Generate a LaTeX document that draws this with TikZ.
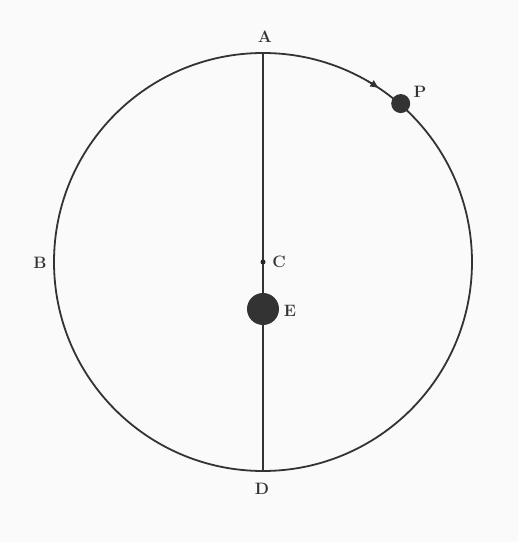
\documentclass[tikz,border=0pt]{standalone}
\usetikzlibrary{arrows.meta}
\begin{document}
\begin{tikzpicture}[x=1pt,y=1pt,
  lbl/.style={font=\fontsize{16.5}{18}\selectfont\bfseries, inner sep=0pt, text=black!80},
  dotsmall/.style={circle, fill=black!85, inner sep=0pt, minimum size=5pt},
  body/.style={circle, fill=black!80, inner sep=0pt},
  orbit/.style={circle, draw=black!80, line width=1.8pt, inner sep=0pt, minimum size=418pt}]
  \fill[black!2] (0,0) rectangle (518,542);
  \useasboundingbox (0,0) rectangle (518,542);
  \node[orbit] (circ) at (263,280) {};
  \draw[black!80, line width=1.4pt] (circ.north) -- (circ.south);
  \node[dotsmall] (C) at (circ.center) {};
  \node[body, minimum size=32pt] (E) at (263,233) {};
  \node[body, minimum size=19pt] (P) at (circ.49.3) {};
  \path (circ.center) ++(60:209) coordinate (ar0);
  \draw[black!80, line width=1.5pt, -{Triangle[length=8pt,width=7pt]}] (ar0) arc[start angle=60, end angle=56.5, radius=209];
  \node[lbl] (lA) at (265,505) {A};
  \node[lbl] (lB) at (40,279) {B};
  \node[lbl] (lC) at (279,280) {C};
  \node[lbl] (lE) at (290,231) {E};
  \node[lbl] (lD) at (262,53) {D};
  \node[lbl] (lP) at (420,450) {P};
\end{tikzpicture}
\end{document}
